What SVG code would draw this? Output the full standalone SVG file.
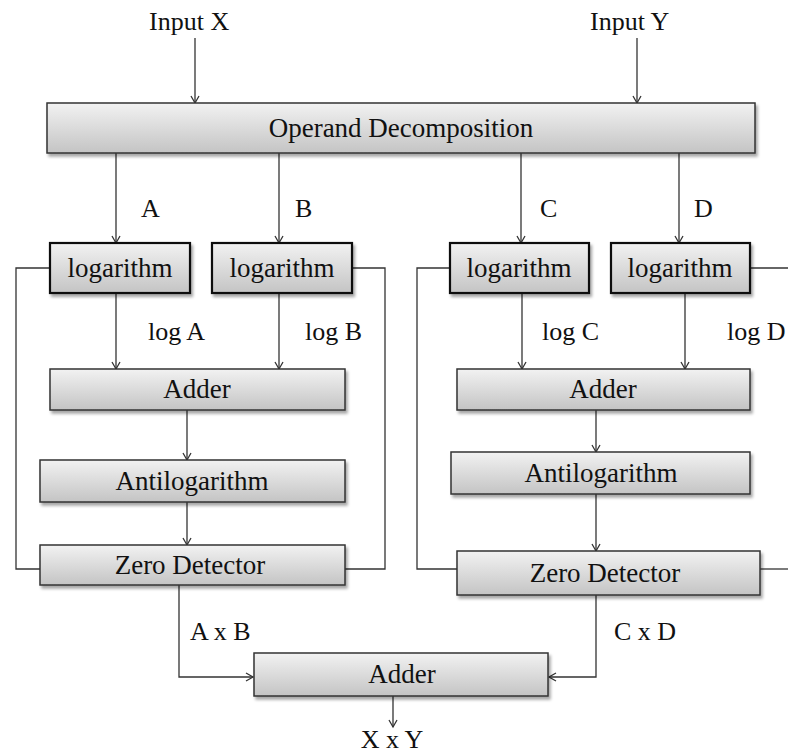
<svg xmlns="http://www.w3.org/2000/svg" width="788" height="753" viewBox="0 0 788 753">
<defs>
<linearGradient id="g" x1="0" y1="0" x2="0" y2="1">
<stop offset="0" stop-color="#f2f2f2"/>
<stop offset="1" stop-color="#c4c4c4"/>
</linearGradient>
<filter id="sh" x="-10%" y="-20%" width="120%" height="160%">
<feDropShadow dx="2" dy="3" stdDeviation="1.5" flood-color="#000" flood-opacity="0.35"/>
</filter>
<marker id="ah" markerWidth="12" markerHeight="12" refX="10" refY="6" orient="auto" markerUnits="userSpaceOnUse">
<path d="M3,2 L10,6 L3,10" fill="none" stroke="#333" stroke-width="1.3"/>
</marker>
</defs>
<style>
.box{fill:url(#g);stroke:#333;stroke-width:1.5;filter:url(#sh)}
.lbox{fill:url(#g);stroke:#111;stroke-width:2.2;filter:url(#sh)}
.t{font-family:"Liberation Serif","Times New Roman",serif;font-size:27px;fill:#111;text-anchor:middle}
.l{font-family:"Liberation Serif","Times New Roman",serif;font-size:26px;fill:#111}
.c{fill:none;stroke:#333;stroke-width:1.3}
.a{marker-end:url(#ah)}
</style>
<rect width="788" height="753" fill="#fff"/>
<g id="connectors">
<path class="c a" d="M195,38 V103"/>
<path class="c a" d="M637,38 V103"/>
<path class="c a" d="M116,153 V243"/>
<path class="c a" d="M279,153 V243"/>
<path class="c a" d="M521,153 V243"/>
<path class="c a" d="M679,153 V243"/>
<path class="c a" d="M116,293 V369"/>
<path class="c a" d="M279,293 V369"/>
<path class="c a" d="M522,293 V369"/>
<path class="c a" d="M685,293 V369"/>
<path class="c a" d="M187,410 V460"/>
<path class="c a" d="M187,502 V545"/>
<path class="c a" d="M596,410 V452"/>
<path class="c a" d="M596,494 V551"/>
<path class="c" d="M50,268 H16 V569 H40"/>
<path class="c" d="M352,268 H385 V569 H345"/>
<path class="c" d="M450,268 H417 V569 H457"/>
<path class="c" d="M750,268 H788"/>
<path class="c" d="M760,569 H788"/>
<path class="c a" d="M179,585 V677 H253"/>
<path class="c a" d="M596,595 V677 H549"/>
<path class="c a" d="M393,696 V727"/>
</g>
<g id="inputX"><text class="l" x="149" y="30">Input X</text></g>
<g id="inputY"><text class="l" x="590" y="30">Input Y</text></g>
<g id="operand"><rect class="box" x="47" y="103" width="708" height="50"/><text class="t" x="401" y="137">Operand Decomposition</text></g>
<g id="labels">
<text class="l" x="141" y="217">A</text>
<text class="l" x="295" y="217">B</text>
<text class="l" x="540" y="217">C</text>
<text class="l" x="694" y="217">D</text>
<text class="l" x="148" y="340">log A</text>
<text class="l" x="305" y="340">log B</text>
<text class="l" x="542" y="340">log C</text>
<text class="l" x="727" y="340">log D</text>
<text class="l" x="190" y="640">A x B</text>
<text class="l" x="614" y="640">C x D</text>
</g>
<g id="log1"><rect class="lbox" x="50" y="243" width="140" height="50"/><text class="t" x="120" y="277">logarithm</text></g>
<g id="log2"><rect class="lbox" x="212" y="243" width="140" height="50"/><text class="t" x="282" y="277">logarithm</text></g>
<g id="log3"><rect class="lbox" x="450" y="243" width="139" height="50"/><text class="t" x="519" y="277">logarithm</text></g>
<g id="log4"><rect class="lbox" x="611" y="243" width="139" height="50"/><text class="t" x="680" y="277">logarithm</text></g>
<g id="adder1"><rect class="box" x="50" y="369" width="295" height="41"/><text class="t" x="197" y="398">Adder</text></g>
<g id="adder2"><rect class="box" x="457" y="369" width="293" height="41"/><text class="t" x="603" y="398">Adder</text></g>
<g id="antilog1"><rect class="box" x="40" y="460" width="305" height="42"/><text class="t" x="192" y="490">Antilogarithm</text></g>
<g id="antilog2"><rect class="box" x="451" y="452" width="299" height="42"/><text class="t" x="601" y="482">Antilogarithm</text></g>
<g id="zero1"><rect class="box" x="40" y="545" width="305" height="40"/><text class="t" x="190" y="574">Zero Detector</text></g>
<g id="zero2"><rect class="box" x="457" y="551" width="303" height="44"/><text class="t" x="605" y="582">Zero Detector</text></g>
<g id="adder3"><rect class="box" x="254" y="653" width="294" height="43"/><text class="t" x="402" y="683">Adder</text></g>
<g id="output"><text class="l" x="392" y="748" text-anchor="middle">X x Y</text></g>
</svg>
